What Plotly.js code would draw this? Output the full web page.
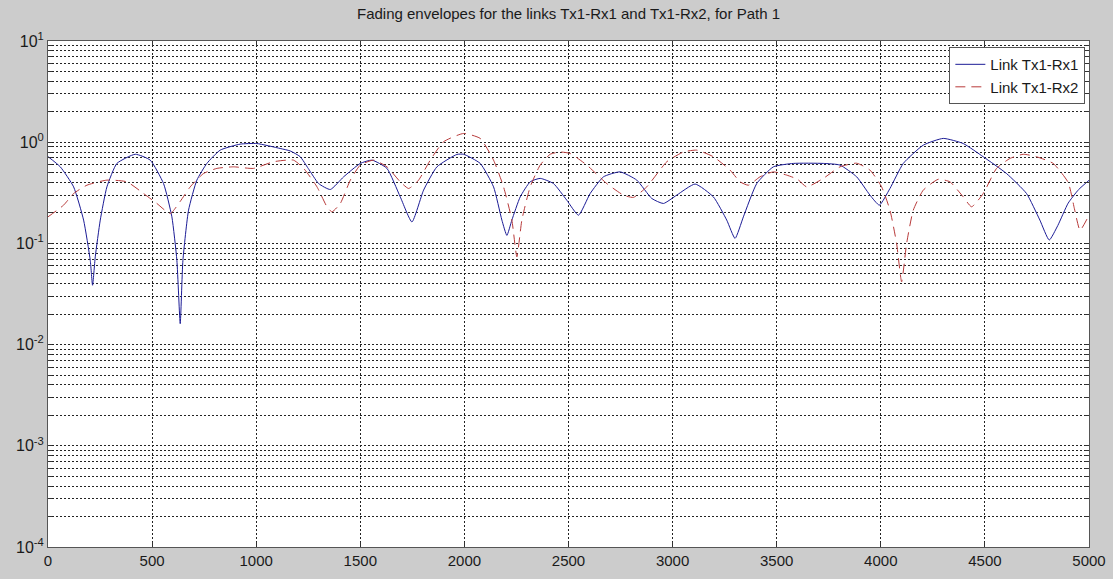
<!DOCTYPE html>
<html>
<head>
<meta charset="utf-8">
<script src="https://cdn.plot.ly/plotly-3.0.1.min.js"></script>
<style>html,body{margin:0;padding:0;background:#cccccc;}#chart{width:1113px;height:579px;}</style>
</head>
<body>
<div id="chart"></div>
<script>
var titleText = "Fading envelopes for the links Tx1-Rx1 and Tx1-Rx2, for Path 1";
var seriesNames = ["Link Tx1-Rx1", "Link Tx1-Rx2"];

var link11X = [0,59,123,171,203,214,227,251,283,331,419,491,555,595,619,635,648,675,715,763,827,923,1003,1115,1163,1211,1250,1300,1356,1420,1500,1556,1628,1692,1748,1804,1868,1964,1996,2076,2140,2180,2204,2228,2268,2316,2364,2428,2492,2548,2604,2668,2748,2828,2900,2956,3020,3108,3196,3260,3300,3340,3404,3484,3580,3724,3804,3884,3948,3993,4044,4108,4204,4300,4396,4492,4604,4700,4764,4809,4850,4900,4950,5000];
var link11Y = [0.72,0.571,0.362,0.17,0.068,0.0386,0.0736,0.17,0.362,0.617,0.76,0.665,0.39,0.183,0.068,0.0161,0.068,0.213,0.422,0.617,0.835,0.957,0.97,0.867,0.82,0.72,0.55,0.39,0.341,0.455,0.617,0.665,0.551,0.288,0.163,0.336,0.571,0.757,0.76,0.617,0.362,0.17,0.12,0.17,0.288,0.406,0.439,0.39,0.267,0.19,0.311,0.455,0.509,0.422,0.278,0.248,0.30,0.386,0.288,0.17,0.112,0.183,0.39,0.571,0.617,0.617,0.594,0.455,0.30,0.239,0.349,0.617,0.935,1.09,0.97,0.718,0.49,0.311,0.17,0.108,0.15,0.25,0.34,0.42];

var link12X = [0,75,123,187,283,379,459,523,587,635,683,747,811,891,987,1083,1179,1228,1292,1340,1364,1404,1452,1500,1564,1628,1692,1732,1780,1836,1900,1996,2076,2140,2188,2228,2252,2276,2316,2364,2412,2460,2508,2588,2684,2764,2812,2876,2972,3052,3116,3196,3276,3324,3364,3420,3484,3548,3600,3644,3724,3804,3884,3948,4004,4044,4076,4100,4124,4156,4204,4276,4332,4396,4436,4492,4556,4620,4684,4748,4828,4900,4930,4957,5000];
var link12Y = [0.183,0.239,0.311,0.376,0.422,0.406,0.311,0.248,0.197,0.26,0.362,0.49,0.551,0.571,0.551,0.641,0.665,0.551,0.362,0.23,0.205,0.248,0.422,0.594,0.665,0.571,0.406,0.349,0.422,0.665,1.01,1.22,1.09,0.665,0.362,0.17,0.0736,0.17,0.362,0.594,0.76,0.80,0.774,0.594,0.39,0.30,0.285,0.362,0.641,0.80,0.835,0.718,0.53,0.406,0.376,0.455,0.509,0.473,0.43,0.362,0.439,0.571,0.62,0.53,0.362,0.213,0.0998,0.0417,0.0998,0.213,0.336,0.43,0.406,0.288,0.23,0.311,0.551,0.69,0.76,0.718,0.617,0.40,0.22,0.135,0.19];

var xTicks = [0,500,1000,1500,2000,2500,3000,3500,4000,4500,5000];
var yDecades = [-4,-3,-2,-1,0,1];

var yTickVals = [], yTickText = [];
yDecades.forEach(function(k){
  for (var m = 1; m <= 9; m++) {
    if (k === 1 && m > 1) break;
    yTickVals.push(m * Math.pow(10, k));
    yTickText.push(m === 1 ? "10<sup>" + k + "</sup>" : "");
  }
});

var font = "'Liberation Sans', Arial, sans-serif";
var traces = [
  {x: link11X, y: link11Y, name: seriesNames[0], type: "scatter", mode: "lines",
   line: {color: "#1c1c96", width: 1, shape: "spline", smoothing: 0.5}},
  {x: link12X, y: link12Y, name: seriesNames[1], type: "scatter", mode: "lines",
   line: {color: "#b83a3a", width: 1, dash: "10px,6px", shape: "spline", smoothing: 0.5}}
];

var layout = {
  width: 1113, height: 579,
  paper_bgcolor: "#cccccc", plot_bgcolor: "#ffffff",
  margin: {l: 48, r: 24, t: 41, b: 32, pad: 0},
  font: {family: font, size: 14, color: "#222222"},
  title: {text: titleText, x: 0.5, xref: "paper", y: 0.977, yref: "container", yanchor: "middle",
          font: {family: font, size: 15, color: "#1a1a1a"}},
  showlegend: true,
  legend: {x: 0.9965, y: 0.988, xanchor: "right", yanchor: "top", bgcolor: "#ffffff",
           bordercolor: "#555555", borderwidth: 1, font: {family: font, size: 15, color: "#1a1a1a"},
           tracegroupgap: 0},
  xaxis: {range: [0, 5000], tickvals: xTicks, ticktext: xTicks.map(String), showgrid: true,
          gridcolor: "#222222", griddash: "2px,2px", gridwidth: 1, zeroline: false,
          showline: true, linecolor: "#555555", linewidth: 1, mirror: "ticks",
          ticks: "inside", ticklen: 5, tickcolor: "#333333",
          tickfont: {family: font, size: 15, color: "#1a1a1a"}},
  yaxis: {type: "log", range: [-4, 1], tickvals: yTickVals, ticktext: yTickText, showgrid: true,
          gridcolor: "#222222", griddash: "2px,2px", gridwidth: 1, zeroline: false,
          showline: true, linecolor: "#555555", linewidth: 1, mirror: "ticks",
          ticks: "inside", ticklen: 4, tickcolor: "#333333",
          tickfont: {family: font, size: 16, color: "#1a1a1a"}}
};

Plotly.newPlot("chart", traces, layout, {displayModeBar: false, staticPlot: true});
</script>
</body>
</html>
